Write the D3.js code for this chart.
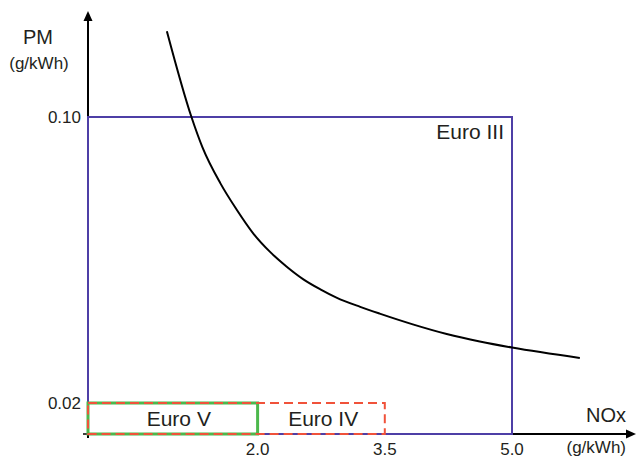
<!DOCTYPE html>
<html><head><meta charset="utf-8">
<script src="https://cdn.jsdelivr.net/npm/d3@7"></script>
<style>
html,body{margin:0;padding:0;background:#fff;}
svg{display:block;font-family:"Liberation Sans",Arial,sans-serif;}
</style></head>
<body>
<script>
// ---- data ----
const xTicks = [2.0, 3.5, 5.0];
const yTicks = [0.02, 0.10];
const curveNOx = [0.93, 1.22, 1.35, 1.56, 1.75, 1.95, 2.15, 2.34, 2.54, 2.74, 2.93, 3.21, 3.44, 3.83, 4.23, 4.62, 5.0, 5.8];
const curvePM  = [0.124, 0.100, 0.0915, 0.0815, 0.0742, 0.0674, 0.0622, 0.0582, 0.0546, 0.0518, 0.0495, 0.0469, 0.0450, 0.0420, 0.0393, 0.0372, 0.0355, 0.0326];
const limitNames = ["Euro III", "Euro IV", "Euro V"];
const limitNOx = [5.0, 3.5, 2.0];
const limitPM  = [0.10, 0.02, 0.02];

// ---- layout ----
const W = 636, H = 458;
const svg = d3.select("body").append("svg").attr("width", W).attr("height", H);
const x = d3.scaleLinear().domain([0, 5]).range([88, 512]);
// schematic (non-uniform) PM axis: piecewise linear
const y = d3.scaleLinear().domain([0, 0.02, 0.10]).range([434, 403, 117]);
const txt = "#231f20";

// axes
const ax = svg.append("g");
ax.append("line").attr("x1", x(0)).attr("x2", 628).attr("y1", y(0)).attr("y2", y(0))
  .attr("stroke", "#000").attr("stroke-width", 2);
ax.append("line").attr("x1", x(0)).attr("x2", x(0)).attr("y1", y(0) + 4).attr("y2", 20)
  .attr("stroke", "#000").attr("stroke-width", 2);
ax.append("line").attr("x1", x(0) - 5).attr("x2", x(0)).attr("y1", y(0)).attr("y2", y(0))
  .attr("stroke", "#000").attr("stroke-width", 1.5);
ax.append("path").attr("d", `M636,${y(0)} L626,${y(0) - 4.5} L626,${y(0) + 4.5} Z`).attr("fill", "#000");
ax.append("path").attr("d", `M${x(0)},11 L${x(0) - 4.5},21 L${x(0) + 4.5},21 Z`).attr("fill", "#000");

// tick labels
svg.append("g").selectAll("text").data(xTicks).join("text")
  .attr("x", d => x(d)).attr("y", 455).attr("text-anchor", "middle")
  .attr("font-size", 17).attr("fill", txt).text(d => d.toFixed(1));
svg.append("g").selectAll("text").data(yTicks).join("text")
  .attr("x", 81).attr("y", d => y(d)).attr("dy", "0.35em").attr("text-anchor", "end")
  .attr("font-size", 17).attr("fill", txt).text(d => d.toFixed(2));

// axis titles
svg.append("text").attr("x", 38).attr("y", 44).attr("text-anchor", "middle")
  .attr("font-size", 20).attr("fill", txt).text("PM");
svg.append("text").attr("x", 39).attr("y", 69).attr("text-anchor", "middle")
  .attr("font-size", 17).attr("fill", txt).text("(g/kWh)");
svg.append("text").attr("x", 626).attr("y", 422).attr("text-anchor", "end")
  .attr("font-size", 20).attr("fill", txt).text("NOx");
svg.append("text").attr("x", 626).attr("y", 453).attr("text-anchor", "end")
  .attr("font-size", 17).attr("fill", txt).text("(g/kWh)");

// Euro III box
svg.append("rect").attr("x", x(0)).attr("y", y(limitPM[0]))
  .attr("width", x(limitNOx[0]) - x(0)).attr("height", y(0) - y(limitPM[0]))
  .attr("fill", "none").attr("stroke", "#4e3fa6").attr("stroke-width", 2);
// Euro V box (green)
svg.append("rect").attr("x", x(0)).attr("y", y(limitPM[2]))
  .attr("width", x(limitNOx[2]) - x(0)).attr("height", y(0) - y(limitPM[2]))
  .attr("fill", "none").attr("stroke", "#4cb84c").attr("stroke-width", 3);
// Euro IV box (dashed red)
svg.append("rect").attr("x", x(0)).attr("y", y(limitPM[1]))
  .attr("width", x(limitNOx[1]) - x(0)).attr("height", y(0) - y(limitPM[1]))
  .attr("fill", "none").attr("stroke", "#f0523a").attr("stroke-width", 2)
  .attr("stroke-dasharray", "9,5");

// labels
svg.append("text").attr("x", x(limitNOx[0]) - 8).attr("y", y(limitPM[0]) + 22).attr("text-anchor", "end")
  .attr("font-size", 21).attr("fill", txt).text(limitNames[0]);
svg.append("text").attr("x", (x(limitNOx[2]) + x(limitNOx[1])) / 2 + 2).attr("y", (y(0) + y(limitPM[1])) / 2).attr("dy", "0.35em")
  .attr("text-anchor", "middle").attr("font-size", 21).attr("fill", txt).text(limitNames[1]);
svg.append("text").attr("x", (x(0) + x(limitNOx[2])) / 2 + 6).attr("y", (y(0) + y(limitPM[2])) / 2).attr("dy", "0.35em")
  .attr("text-anchor", "middle").attr("font-size", 21).attr("fill", txt).text(limitNames[2]);

// trade-off curve
const pts = curveNOx.map((d, i) => [d, curvePM[i]]);
svg.append("path").datum(pts)
  .attr("d", d3.line().x(d => x(d[0])).y(d => y(d[1])).curve(d3.curveMonotoneX))
  .attr("fill", "none").attr("stroke", "#000").attr("stroke-width", 2);
</script>
</body></html>
